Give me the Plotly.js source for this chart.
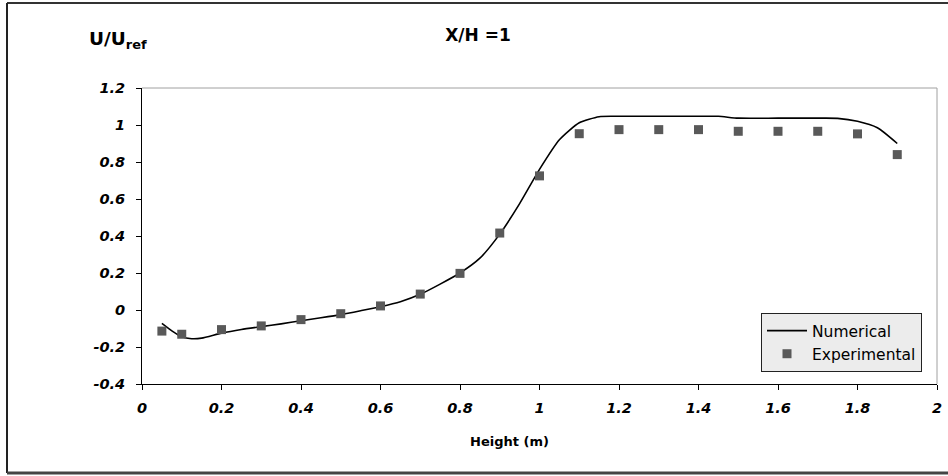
<!DOCTYPE html>
<html>
<head>
<meta charset="utf-8">
<script src="https://cdn.plot.ly/plotly-3.0.1.min.js"></script>
<style>
  html, body { margin: 0; padding: 0; background: #ffffff; }
  #chart { width: 948px; height: 476px; }
</style>
</head>
<body>
<div id="chart"></div>
<script>
// Numerical (line) series
const numX = [0.05, 0.08, 0.1, 0.125, 0.15, 0.2, 0.25, 0.3, 0.35, 0.4, 0.45, 0.5, 0.55, 0.6, 0.65, 0.7, 0.75, 0.8, 0.85, 0.9, 0.95, 1.0, 1.05, 1.1, 1.15, 1.2, 1.3, 1.4, 1.45, 1.5, 1.6, 1.7, 1.75, 1.8, 1.85, 1.9];
const numY = [-0.072, -0.12, -0.145, -0.155, -0.152, -0.125, -0.105, -0.09, -0.075, -0.058, -0.042, -0.025, -0.004, 0.018, 0.045, 0.085, 0.14, 0.2, 0.28, 0.41, 0.575, 0.76, 0.92, 1.012, 1.045, 1.047, 1.047, 1.047, 1.047, 1.037, 1.037, 1.037, 1.036, 1.02, 0.985, 0.9];

// Experimental (markers) series
const expX = [0.05, 0.1, 0.2, 0.3, 0.4, 0.5, 0.6, 0.7, 0.8, 0.9, 1.0, 1.1, 1.2, 1.3, 1.4, 1.5, 1.6, 1.7, 1.8, 1.9];
const expY = [-0.114, -0.131, -0.106, -0.086, -0.052, -0.02, 0.022, 0.086, 0.198, 0.416, 0.725, 0.953, 0.975, 0.975, 0.975, 0.966, 0.966, 0.966, 0.952, 0.84];

// Tick labels
const xTickVals = [0, 0.2, 0.4, 0.6, 0.8, 1, 1.2, 1.4, 1.6, 1.8, 2];
const xTickText = ["0", "0.2", "0.4", "0.6", "0.8", "1", "1.2", "1.4", "1.6", "1.8", "2"];
const yTickVals = [-0.4, -0.2, 0, 0.2, 0.4, 0.6, 0.8, 1, 1.2];
const yTickText = ["-0.4", "-0.2", "0", "0.2", "0.4", "0.6", "0.8", "1", "1.2"];

const FONT = "DejaVu Sans, Liberation Sans, Arial, sans-serif";
const tickFont = { family: FONT, size: 14.5, color: "#000000", weight: "bold", style: "italic" };

const traces = [
  {
    x: numX, y: numY, name: "Numerical", type: "scatter", mode: "lines",
    line: { color: "#000000", width: 1.6, shape: "spline", smoothing: 0.6 },
    legendgroup: "a"
  },
  {
    x: expX, y: expY, name: "Experimental", type: "scatter", mode: "markers",
    marker: { symbol: "square", size: 9, color: "#595959", line: { width: 0 } },
    legendgroup: "b"
  }
];

// plot area pixels: left 142, right 937, top 88, bottom 384
const L = 142, R = 937, T = 88, B = 384;
const px = v => (v - L) / (R - L);
const py = v => (B - v) / (B - T);

const layout = {
  width: 948, height: 476,
  margin: { l: L, r: 948 - R, t: T, b: 476 - B, pad: 0 },
  paper_bgcolor: "#ffffff",
  plot_bgcolor: "#ffffff",
  showlegend: true,
  title: {
    text: "<b>X/H =1</b>",
    font: { family: FONT, size: 17, color: "#000000" },
    x: 478 / 948, xanchor: "center",
    y: 1 - 35 / 476, yanchor: "middle"
  },
  xaxis: {
    range: [0, 2],
    tickvals: xTickVals, ticktext: xTickText,
    ticks: "outside", ticklen: 5, tickwidth: 1, tickcolor: "#000000",
    showline: true, linecolor: "#000000", linewidth: 1,
    showgrid: false, zeroline: false,
    tickfont: tickFont,
    ticklabelstandoff: 6
  },
  yaxis: {
    range: [-0.4, 1.2],
    tickvals: yTickVals, ticktext: yTickText,
    ticks: "outside", ticklen: 5, tickwidth: 1, tickcolor: "#000000",
    showline: true, linecolor: "#000000", linewidth: 1,
    showgrid: false, zeroline: false,
    tickfont: tickFont,
    ticklabelstandoff: 8
  },
  legend: {
    x: px(761), xanchor: "left",
    y: py(313), yanchor: "top",
    bgcolor: "#ececec",
    bordercolor: "#222222", borderwidth: 1,
    font: { family: FONT, size: 15.5, color: "#000000" },
    traceorder: "grouped",
    tracegroupgap: 0,
    itemwidth: 40
  },
  annotations: [
    {
      text: "<b>U/U<sub>ref</sub></b>",
      xref: "paper", yref: "paper",
      x: px(87), xanchor: "left",
      y: py(40), yanchor: "middle",
      showarrow: false,
      font: { family: FONT, size: 18.5, color: "#000000" }
    },
    {
      text: "<b>Height (m)</b>",
      xref: "paper", yref: "paper",
      x: px(509), xanchor: "center",
      y: py(441), yanchor: "middle",
      showarrow: false,
      font: { family: FONT, size: 13, color: "#000000" }
    }
  ],
  shapes: [
    // gray top and right borders of plot area
    { type: "line", xref: "paper", yref: "paper", x0: 0, x1: 1, y0: 1, y1: 1, line: { color: "#a0a0a0", width: 1 } },
    { type: "line", xref: "paper", yref: "paper", x0: 1, x1: 1, y0: 0, y1: 1, line: { color: "#a0a0a0", width: 1 } },
    // outer frame
    { type: "line", xref: "paper", yref: "paper", x0: px(7), x1: px(960), y0: py(3), y1: py(3), line: { color: "#333333", width: 2 } },
    { type: "line", xref: "paper", yref: "paper", x0: px(7), x1: px(7), y0: py(3), y1: py(473), line: { color: "#222222", width: 2 } },
    { type: "line", xref: "paper", yref: "paper", x0: px(7), x1: px(960), y0: py(473), y1: py(473), line: { color: "#444444", width: 3 } }
  ]
};

Plotly.newPlot("chart", traces, layout, { staticPlot: true, displayModeBar: false });
</script>
</body>
</html>
